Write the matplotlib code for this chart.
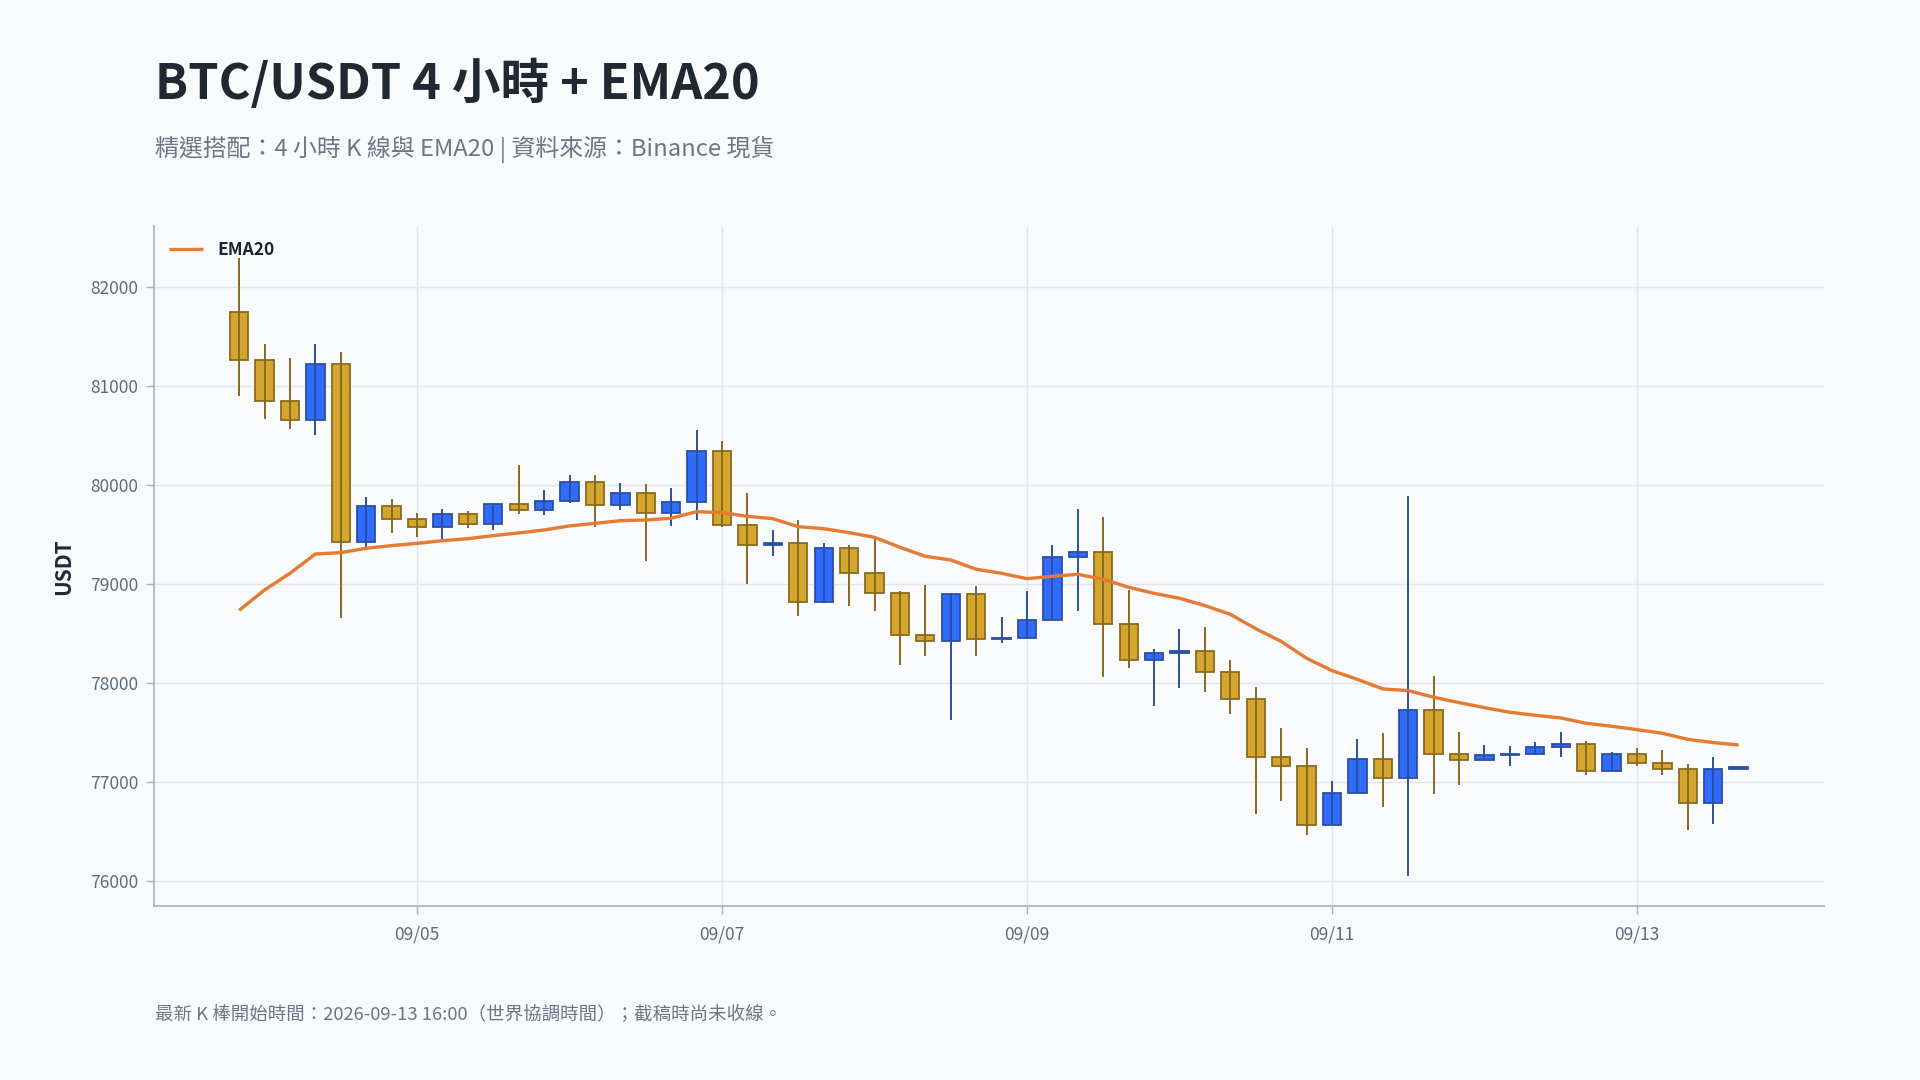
import matplotlib
matplotlib.use("Agg")
import matplotlib.pyplot as plt
import matplotlib.dates as mdates
import pandas as pd
import numpy as np

plt.rcParams['font.family'] = ['Noto Sans CJK TC', 'DejaVu Sans']

# ---------------- data ----------------
start_time = "2026-09-03 20:00"
n_candles = 60
times = pd.date_range(start_time, periods=n_candles, freq="4h")

opens = [81754, 81266, 80852, 80660, 81229, 79428, 79795, 79663, 79579, 79714,
         79609, 79815, 79751, 79838, 80037, 79801, 79926, 79721, 79835, 80350,
         79599, 79397, 79420, 78822, 79370, 79114, 78912, 78488, 78431, 78906,
         78448, 78460, 78643, 79279, 79330, 78599, 78236, 78310, 78325, 78115,
         77842, 77259, 77168, 76572, 76896, 77239, 77044, 77734, 77286, 77226,
         77279, 77285, 77360, 77390, 77114, 77290, 77195, 77138, 76795, 77138]
highs = [82300, 81428, 81286, 81428, 81347, 79882, 79862, 79717, 79761, 79741,
         79822, 80205, 79953, 80104, 80104, 80024, 80013, 79973, 80559, 80448,
         79923, 79549, 79650, 79414, 79394, 79485, 78929, 78993, 78910, 78980,
         78670, 78933, 79397, 79761, 79680, 78943, 78347, 78549, 78569, 78236,
         77963, 77549, 77347, 77013, 77438, 77498, 79896, 78074, 77508, 77377,
         77367, 77407, 77508, 77418, 77306, 77347, 77327, 77185, 77256, 77155]
lows = [80906, 80673, 80572, 80512, 78663, 79380, 79522, 79481, 79461, 79572,
        79552, 79714, 79704, 79820, 79582, 79754, 79239, 79593, 79653, 79576,
        79007, 79290, 78683, 78815, 78785, 78734, 78189, 78279, 77626, 78279,
        78411, 78455, 78640, 78734, 78064, 78158, 77774, 77956, 77916, 77694,
        76684, 76815, 76471, 76565, 76890, 76754, 76057, 76886, 76976, 77220,
        77165, 77280, 77259, 77071, 77110, 77168, 77071, 76515, 76575, 77135]
closes = [81266, 80852, 80660, 81229, 79428, 79795, 79663, 79579, 79714, 79609,
          79815, 79751, 79838, 80037, 79801, 79926, 79721, 79835, 80350, 79599,
          79397, 79420, 78822, 79370, 79114, 78912, 78488, 78431, 78906, 78448,
          78460, 78643, 79279, 79330, 78599, 78236, 78310, 78325, 78115, 77842,
          77259, 77168, 76572, 76896, 77239, 77044, 77734, 77286, 77226, 77279,
          77285, 77360, 77390, 77114, 77290, 77195, 77138, 76795, 77138, 77150]
ema20 = [78737, 78943, 79111, 79306, 79320, 79364, 79391, 79414, 79441, 79461,
         79492, 79519, 79549, 79590, 79616, 79643, 79650, 79667, 79734, 79724,
         79687, 79663, 79582, 79562, 79522, 79475, 79374, 79283, 79246, 79152,
         79111, 79057, 79081, 79101, 79051, 78970, 78909, 78859, 78785, 78697,
         78552, 78424, 78253, 78128, 78040, 77943, 77926, 77859, 77805, 77754,
         77707, 77677, 77650, 77596, 77566, 77532, 77495, 77434, 77401, 77377]

y_ticks = [76000, 77000, 78000, 79000, 80000, 81000, 82000]
x_tick_labels = ["09/05", "09/07", "09/09", "09/11", "09/13"]

title = "BTC/USDT 4 小時 + EMA20"
subtitle = "精選搭配：4 小時 K 線與 EMA20 | 資料來源：Binance 現貨"
footer = "最新 K 棒開始時間：2026-09-13 16:00（世界協調時間）；截稿時尚未收線。"

# ---------------- style ----------------
BG = "#F8FAFC"
UP_FILL, UP_EDGE = "#2F6BFF", "#2C4F9E"
DN_FILL, DN_EDGE = "#D4A62E", "#8A6A1F"
EMA_COLOR = "#E67A30"
GRID = "#E1E5EB"
SPINE = "#A7B0BE"
TICK_TXT = "#5F6B7A"

fig = plt.figure(figsize=(19.2, 10.8), dpi=100, facecolor=BG)
ax = fig.add_axes([154 / 1920, 1 - 906 / 1080, 1670 / 1920, 679.5 / 1080])
ax.set_facecolor(BG)

o = np.array(opens, float)
h = np.array(highs, float)
l = np.array(lows, float)
c = np.array(closes, float)
up = c >= o

x = mdates.date2num(times.to_pydatetime())
step = 4 / 24
body_w = step * 0.72

bottoms = np.minimum(o, c)
heights = np.maximum(np.abs(c - o), 6)

fill = np.where(up, UP_FILL, DN_FILL)
edge = np.where(up, UP_EDGE, DN_EDGE)

ax.bar(x, heights, bottom=bottoms, width=body_w, color=list(fill),
       edgecolor=list(edge), linewidth=1.3, zorder=3)
ax.vlines(x, l, h, colors=list(edge), linewidth=1.4, zorder=4)

ax.plot(x, ema20, color=EMA_COLOR, linewidth=2.4, zorder=5, label="EMA20",
        solid_capstyle="butt")

# axes
ax.set_xlim(x[0] - 3.35 * step, x[-1] + 3.36 * step)
ax.set_ylim(75750, 82615)
ax.set_yticks(y_ticks)
ax.set_yticklabels([str(v) for v in y_ticks])
tick_pos = [mdates.date2num(pd.Timestamp(f"2026-{lab.replace('/', '-')} 00:00").to_pydatetime())
            for lab in x_tick_labels]
ax.set_xticks(tick_pos)
ax.set_xticklabels(x_tick_labels)

ax.grid(True, color=GRID, linewidth=1.0, zorder=0)
ax.set_axisbelow(True)
for s in ["top", "right"]:
    ax.spines[s].set_visible(False)
for s in ["left", "bottom"]:
    ax.spines[s].set_color(SPINE)
    ax.spines[s].set_linewidth(1.2)
ax.tick_params(axis="both", colors=SPINE, labelcolor=TICK_TXT, labelsize=12.5,
               length=6, width=1)
ax.tick_params(axis="y", pad=5)
ax.tick_params(axis="x", pad=8)

ax.set_ylabel("USDT", fontsize=15, fontweight="bold", color="#222831", labelpad=12)

leg = ax.legend(loc="upper left", frameon=False, prop={"size": 12.5, "weight": "bold"},
                handlelength=2.0, borderaxespad=0.45)
for t in leg.get_texts():
    t.set_color("#1F2530")

fig.text(155 / 1920, 1 - 99 / 1080, title, fontsize=35, fontweight="bold",
         color="#222831", va="baseline", ha="left")
fig.text(155 / 1920, 1 - 156 / 1080, subtitle, fontsize=17.2, color="#6B7785",
         va="baseline", ha="left")
fig.text(155 / 1920, 1 - 1020 / 1080, footer, fontsize=13.3, color="#6B7785",
         va="baseline", ha="left")

fig.savefig("out.png", dpi=100, facecolor=BG)
